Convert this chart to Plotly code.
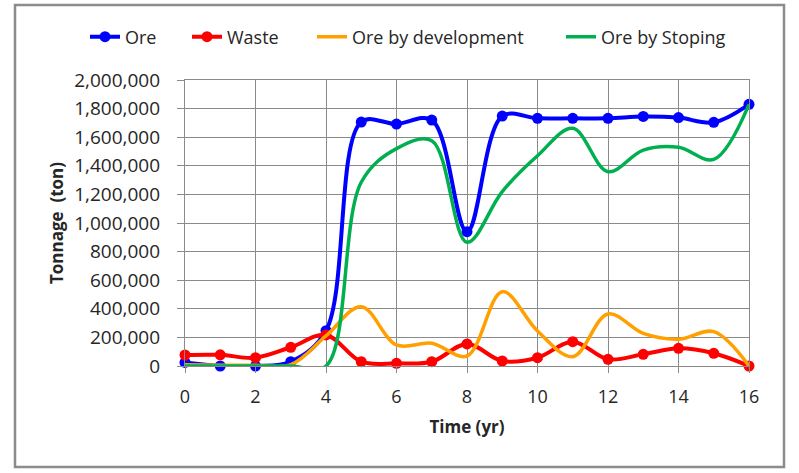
import plotly.graph_objects as go

years = list(range(0, 17))
ore = [25000, 0, 0, 30000, 247000, 1706000, 1692000, 1720000, 939000,
       1748000, 1732000, 1732000, 1732000, 1745000, 1737000, 1704000, 1830000]
waste = [77000, 78000, 58000, 131000, 217000, 30000, 19000, 30000, 154000,
         35000, 58000, 170000, 47000, 82000, 124000, 89000, 0]
ore_dev = [8000, 5000, 5000, 10000, 210000, 415000, 147000, 159000, 70000,
           520000, 245000, 65000, 364000, 228000, 187000, 240000, 0]
ore_stoping = [0, 0, 0, 0, 0, 1285000, 1520000, 1575000, 865000,
               1220000, 1470000, 1662000, 1359000, 1510000, 1529000, 1445000, 1830000]

series_names = ["Ore", "Waste", "Ore by development", "Ore by Stoping"]
colors = ["#0000FF", "#FF0000", "#FFA000", "#00B050"]

FONT = "Open Sans"
TXT = "#262626"
GRID = "#8a8a8a"

W, H = 799, 473
L, R, T, B = 185, 50, 80, 107
pw, ph = W - L - R, H - T - B

fig = go.Figure()
fig.add_trace(go.Scatter(x=years, y=ore, name=series_names[0], mode="lines+markers",
                         line=dict(color=colors[0], width=4, shape="spline", smoothing=1),
                         marker=dict(size=11, color=colors[0]), cliponaxis=False,
                         legend="legend"))
fig.add_trace(go.Scatter(x=years, y=waste, name=series_names[1], mode="lines+markers",
                         line=dict(color=colors[1], width=4, shape="spline", smoothing=1),
                         marker=dict(size=11, color=colors[1]), cliponaxis=False,
                         legend="legend2"))
fig.add_trace(go.Scatter(x=years, y=ore_dev, name=series_names[2], mode="lines",
                         line=dict(color=colors[2], width=3.5, shape="spline", smoothing=1),
                         legend="legend3"))
fig.add_trace(go.Scatter(x=years, y=ore_stoping, name=series_names[3], mode="lines",
                         line=dict(color=colors[3], width=3.5, shape="spline", smoothing=1),
                         legend="legend4"))

def px_x(p):
    return (p - L) / pw

def px_y(p):
    return (H - B - p) / ph

fig.add_shape(type="rect", xref="paper", yref="paper",
              x0=px_x(15), x1=px_x(784), y0=px_y(467), y1=px_y(5),
              line=dict(color="#8c8c8c", width=2.5), fillcolor="rgba(0,0,0,0)", layer="below")

legend_text_starts = [125, 227, 352, 601]

def legend_at(text_x):
    return dict(orientation="h", xref="container", yref="container",
                x=(text_x - 40) / W, xanchor="left", y=1 - 37 / H, yanchor="middle",
                font=dict(family=FONT, size=18, color=TXT),
                bgcolor="rgba(0,0,0,0)", itemwidth=30)

fig.update_layout(
    width=W, height=H,
    margin=dict(l=L, r=R, t=T, b=B, autoexpand=False),
    paper_bgcolor="white", plot_bgcolor="white",
    font=dict(family=FONT, size=18, color=TXT),
    showlegend=True,
    legend=legend_at(legend_text_starts[0]),
    legend2=legend_at(legend_text_starts[1]),
    legend3=legend_at(legend_text_starts[2]),
    legend4=legend_at(legend_text_starts[3]),
    xaxis=dict(range=[0, 16], dtick=2, tick0=0,
               showgrid=True, gridcolor=GRID, gridwidth=1.2,
               showline=True, linecolor=GRID, linewidth=1.2, mirror=True,
               ticks="outside", ticklen=6, tickcolor=GRID, tickwidth=1.2,
               zeroline=False,
               tickfont=dict(family=FONT, size=18, color=TXT),
               ticklabelstandoff=8,
               title=dict(text="<b>Time (yr)</b>", font=dict(family=FONT, size=17, color=TXT),
                          standoff=14)),
    yaxis=dict(range=[0, 2000000], dtick=200000, tick0=0, tickformat=",d",
               showgrid=True, gridcolor=GRID, gridwidth=1.2,
               showline=True, linecolor=GRID, linewidth=1.2, mirror=True,
               ticks="outside", ticklen=7, tickcolor=GRID, tickwidth=1.2,
               zeroline=False,
               tickfont=dict(family=FONT, size=19, color=TXT),
               ticklabelstandoff=13,
               title=dict(text="<b>Tonnage\u00a0 (ton)</b>", font=dict(family=FONT, size=17, color=TXT),
                          standoff=6)),
)

fig.write_html("out.html", config={"displayModeBar": False},
               post_script="document.body.style.margin='0';document.body.style.overflow='hidden';")
